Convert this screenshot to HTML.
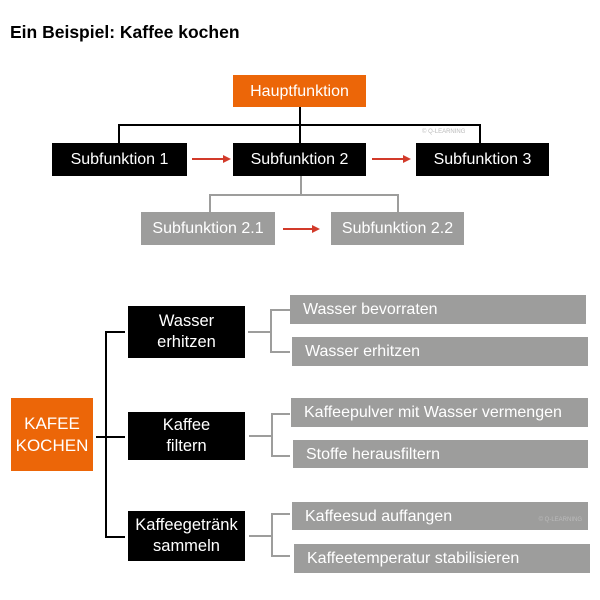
<!DOCTYPE html><html><head><style>
body{margin:0;width:600px;height:600px;background:#fff;position:relative;font-family:"Liberation Sans",sans-serif;overflow:hidden}
.b{position:absolute;display:flex;align-items:center;justify-content:center;text-align:center;color:#fff;font-size:16px;line-height:21px;white-space:nowrap}
.k{background:#000}.o{background:#ec6608}.g{background:#9d9d9c}
.gl{justify-content:flex-start;padding-left:13px;box-sizing:border-box;font-size:16px}
.l{position:absolute}
</style></head><body>
<div style="position:absolute;left:10px;top:22px;font-weight:bold;font-size:17.5px">Ein Beispiel: Kaffee kochen</div>
<div class="b o" style="left:233px;top:75px;width:133px;height:32px">Hauptfunktion</div>
<div class="l" style="left:299px;top:107px;width:2px;height:36px;background:#000"></div>
<div class="l" style="left:118px;top:124px;width:363px;height:2px;background:#000"></div>
<div class="l" style="left:118px;top:124px;width:2px;height:19px;background:#000"></div>
<div class="l" style="left:479px;top:124px;width:2px;height:19px;background:#000"></div>
<div style="position:absolute;left:422px;top:129px;font-size:6px;color:#bbb">© Q-LEARNING</div>
<div class="b k" style="left:52px;top:143px;width:135px;height:33px">Subfunktion 1</div>
<div class="b k" style="left:233px;top:143px;width:133px;height:33px">Subfunktion 2</div>
<div class="b k" style="left:416px;top:143px;width:133px;height:33px">Subfunktion 3</div>
<svg class="l" style="left:0;top:0" width="600" height="600">
<g stroke="#d23a2a" stroke-width="2" fill="#d23a2a">
<line x1="192" y1="159" x2="225" y2="159"/><polygon points="223,155 231,159 223,163" stroke="none"/>
<line x1="372" y1="159" x2="405" y2="159"/><polygon points="403,155 411,159 403,163" stroke="none"/>
<line x1="283" y1="229" x2="314" y2="229"/><polygon points="312,225 320,229 312,233" stroke="none"/>
</g>
<g stroke="#9d9d9c" stroke-width="2" fill="none">
<polyline points="210,212 210,195 398,195 398,212"/><line x1="301" y1="176" x2="301" y2="195"/>
<polyline points="290,310 271,310 271,352 290,352"/><line x1="248" y1="332" x2="271" y2="332"/>
<polyline points="290,414 272,414 272,456 290,456"/><line x1="249" y1="436" x2="272" y2="436"/>
<polyline points="290,514 272,514 272,556 290,556"/><line x1="249" y1="536" x2="272" y2="536"/>
</g>
<g stroke="#000" stroke-width="2" fill="none">
<polyline points="125,332 106,332 106,537 125,537"/><line x1="96" y1="437" x2="125" y2="437"/>
</g>
</svg>
<div class="b g" style="left:141px;top:212px;width:134px;height:33px">Subfunktion 2.1</div>
<div class="b g" style="left:331px;top:212px;width:133px;height:33px">Subfunktion 2.2</div>
<div class="b o" style="left:11px;top:398px;width:82px;height:73px;font-size:17px;line-height:22px">KAFEE<br>KOCHEN</div>
<div class="b k" style="left:128px;top:306px;width:117px;height:52px;font-size:16.5px">Wasser<br>erhitzen</div>
<div class="b k" style="left:128px;top:412px;width:117px;height:48px;font-size:16.5px">Kaffee<br>filtern</div>
<div class="b k" style="left:128px;top:511px;width:117px;height:50px;font-size:16.5px">Kaffeegetränk<br>sammeln</div>
<div class="b g gl" style="left:290px;top:295px;width:296px;height:29px">Wasser bevorraten</div>
<div class="b g gl" style="left:292px;top:337px;width:296px;height:29px">Wasser erhitzen</div>
<div class="b g gl" style="left:291px;top:398px;width:297px;height:29px">Kaffeepulver mit Wasser vermengen</div>
<div class="b g gl" style="left:293px;top:440px;width:295px;height:28px">Stoffe herausfiltern</div>
<div class="b g gl" style="left:292px;top:502px;width:296px;height:28px">Kaffeesud auffangen<span style="position:absolute;right:6px;top:14px;font-size:6px;color:#bbb;line-height:8px">© Q-LEARNING</span></div>
<div class="b g gl" style="left:294px;top:544px;width:296px;height:29px">Kaffeetemperatur stabilisieren</div>
</body></html>
